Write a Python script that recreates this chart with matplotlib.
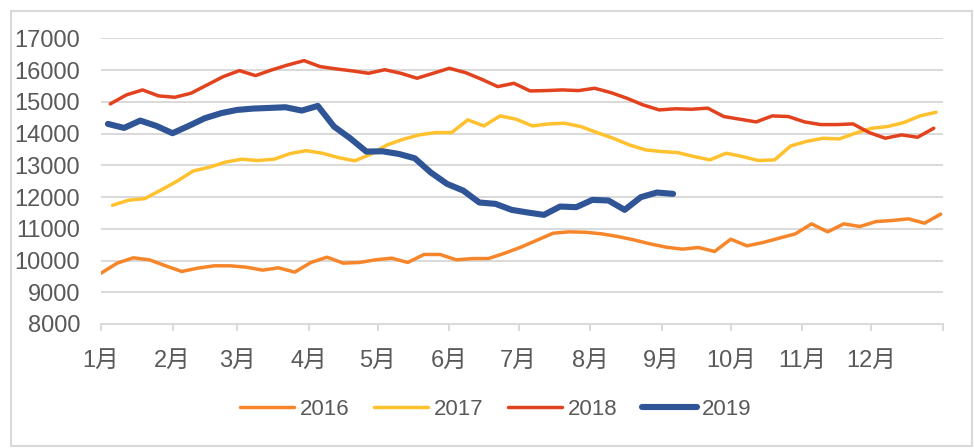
import pandas as pd
import matplotlib
matplotlib.use("Agg")
import matplotlib.pyplot as plt
from matplotlib.patches import Rectangle

# weekly values (Fridays)
start_dates = {"2016": "2016-01-01", "2017": "2017-01-06",
               "2018": "2018-01-05", "2019": "2019-01-04"}

values_2016 = [9600, 9917, 10085, 10022, 9833, 9655, 9760, 9833, 9833, 9790,
               9697, 9770, 9634, 9938, 10105, 9917, 9938, 10022, 10074, 9938,
               10190, 10190, 10022, 10060, 10064, 10230, 10420, 10640, 10861, 10903,
               10890, 10840, 10756, 10650, 10525, 10420, 10358, 10410, 10284, 10672,
               10462, 10567, 10704, 10840, 11155, 10903, 11155, 11071, 11228, 11260,
               11312, 11176, 11460]
values_2017 = [11740, 11900, 11950, 12220, 12500, 12820, 12940, 13100, 13190, 13150,
               13190, 13370, 13460, 13380, 13240, 13140, 13350, 13640, 13820, 13957,
               14030, 14030, 14430, 14240, 14555, 14450, 14240, 14303, 14324, 14220,
               14030, 13852, 13642, 13485, 13432, 13400, 13275, 13170, 13380, 13275,
               13150, 13170, 13610, 13755, 13850, 13830, 14010, 14165, 14220, 14345,
               14555, 14670]
values_2018 = [14933, 15216, 15374, 15185, 15143, 15269, 15531, 15793, 15982, 15825,
               16003, 16160, 16297, 16108, 16035, 15972, 15898, 16010, 15898, 15741,
               15898, 16056, 15919, 15709, 15478, 15583, 15342, 15353, 15374, 15353,
               15426, 15290, 15111, 14901, 14744, 14780, 14765, 14800, 14535, 14450,
               14366, 14555, 14535, 14366, 14282, 14282, 14303, 14030, 13852, 13957,
               13883, 14167]
values_2019 = [14303, 14177, 14408, 14240, 14010, 14240, 14482, 14640, 14744, 14786,
               14807, 14828, 14723, 14870, 14220, 13852, 13432, 13440, 13359, 13222,
               12771, 12414, 12204, 11827, 11785, 11596, 11512, 11438, 11700, 11680,
               11910, 11890, 11596, 11995, 12142, 12100]

month_labels = ["1月", "2月", "3月", "4月", "5月", "6月",
                "7月", "8月", "9月", "10月", "11月", "12月"]
month_starts = [0, 31, 59, 90, 120, 151, 181, 212, 243, 273, 304, 334, 365]

series = [("2016", values_2016, "#F7862A", 2.5),
          ("2017", values_2017, "#FFC12E", 2.5),
          ("2018", values_2018, "#E2421E", 2.5),
          ("2019", values_2019, "#2F5597", 4.4)]

text_color = "#595959"
grid_color = "#D9D9D9"

fig = plt.figure(figsize=(9.74, 4.48), dpi=100)
ax = fig.add_axes([101 / 974, 1 - 324 / 448, 842 / 974, (324 - 38.3) / 448])

for name, vals, color, lw in series:
    dates = pd.date_range(start_dates[name], periods=len(vals), freq="7D")
    days = (dates - pd.Timestamp(name + "-01-01")).days
    ax.plot(days, vals, color=color, lw=lw, label=name,
            solid_capstyle="round", solid_joinstyle="round")

ax.set_xlim(0, 365)
ax.set_ylim(8000, 17000)
ax.set_yticks(range(8000, 17001, 1000))
ax.set_xticks(month_starts)
ax.set_xticklabels(month_labels + [""])

ax.grid(axis="y", color=grid_color, lw=1.4)
ax.set_axisbelow(True)
for side in ["top", "left", "right"]:
    ax.spines[side].set_visible(False)
ax.spines["bottom"].set_color(grid_color)
ax.spines["bottom"].set_linewidth(1.4)

ax.tick_params(axis="y", length=0, pad=15, labelsize=17, labelcolor=text_color)
ax.tick_params(axis="x", length=5, width=1.4, color=grid_color, pad=14,
               labelsize=17, labelcolor=text_color)
for lab in ax.get_yticklabels():
    lab.set_family("Liberation Sans")
for lab in ax.get_xticklabels():
    lab.set_family(["Liberation Sans", "Noto Sans CJK SC"])

leg = fig.legend(loc="center", bbox_to_anchor=(0.509, 1 - 409 / 448), ncol=4,
                 frameon=False, handlelength=2.45, handletextpad=0.25,
                 columnspacing=1.1, prop={"family": "Liberation Sans", "size": 16})
for t in leg.get_texts():
    t.set_color(text_color)

# outer chart border
fig.patches.append(Rectangle((11 / 974, 2 / 448), 961 / 974, 435 / 448,
                             transform=fig.transFigure, fill=False,
                             edgecolor=grid_color, lw=1.5))

fig.savefig("out.png", dpi=100)
